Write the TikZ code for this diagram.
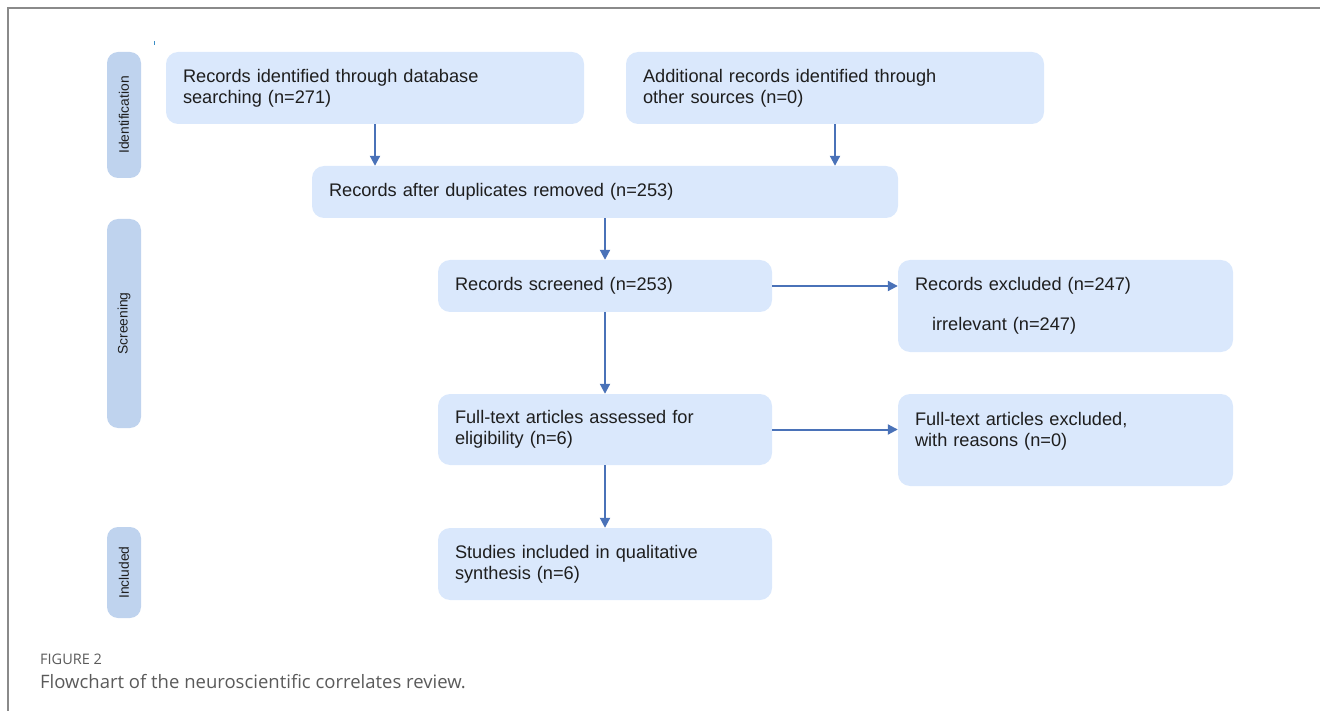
\documentclass[tikz,border=0pt]{standalone}
\usepackage{fontspec}
\setmainfont{Liberation Sans}
\newfontfamily\capfont{Open Sans}
\usetikzlibrary{arrows.meta}
\definecolor{boxfill}{HTML}{DAE8FC}
\definecolor{sidefill}{HTML}{BFD3EE}
\definecolor{arrowc}{HTML}{4A72B8}
\definecolor{txt}{HTML}{1E1E1E}
\definecolor{framec}{HTML}{8A8A8A}
\definecolor{capc}{HTML}{5A5A5A}
\tikzset{
  flowbox/.style={rectangle, rounded corners=12pt, fill=boxfill, draw=none,
    inner sep=0pt, align=left, text=txt,
    font=\fontsize{18.2}{21}\selectfont},
  sidebox/.style={rectangle, rounded corners=11pt, fill=sidefill, draw=none,
    inner sep=0pt, minimum width=34pt, text=txt,
    font=\fontsize{13.8}{15}\selectfont},
  flowarrow/.style={draw=arrowc, line width=2pt, -{Triangle[length=10pt,width=10pt]}},
}
\begin{document}
\begin{tikzpicture}[x=1pt,y=-1pt]
\useasboundingbox (0,0) rectangle (1320,711);
% frame (top and left lines)
\draw[framec, line width=1.5pt] (8,711) -- (8,8) -- (1320,8);
% tiny blue mark
\draw[arrowc!80!cyan, line width=1pt] (154,41.5) -- (154,45);
% side labels
\node[sidebox, minimum height=126pt] (sid) at (124,115) {\rotatebox{90}{Identification}};
\node[sidebox, minimum height=209pt] (sscr) at (124,323.5) {\rotatebox{90}{Screening}};
\node[sidebox, minimum height=91pt] (sinc) at (124,572.5) {\rotatebox{90}{Included}};
% boxes
\node[flowbox, minimum width=418pt, minimum height=72pt, text width=384pt] (A) at (375,88)
  {Records identified through database\\searching (n=271)};
\node[flowbox, minimum width=418pt, minimum height=72pt, text width=384pt] (B) at (835,88)
  {Additional records identified through\\other sources (n=0)};
\node[flowbox, minimum width=586pt, minimum height=52pt, text width=552pt] (C) at (605,192)
  {Records after duplicates removed (n=253)};
\node[flowbox, minimum width=334pt, minimum height=52pt, text width=300pt] (D) at (605,286)
  {Records screened (n=253)};
\node[flowbox, minimum width=335pt, minimum height=92pt, text width=301pt] (E) at (1065.5,306)
  {Records excluded (n=247)\\[19pt]\hspace*{17pt}irrelevant (n=247)};
\node[flowbox, minimum width=334pt, minimum height=71pt, text width=300pt] (F) at (605,429.5)
  {Full-text articles assessed for\\eligibility (n=6)};
\node[flowbox, minimum width=335pt, minimum height=92pt, text width=301pt] (G) at (1065.5,440)
  {Full-text articles excluded,\\with reasons (n=0)\\\mbox{}};
\node[flowbox, minimum width=334pt, minimum height=72pt, text width=300pt] (H) at (605,564)
  {Studies included in qualitative\\synthesis (n=6)};
% arrows
\draw[flowarrow] (A.south) -- (A.south |- C.north);
\draw[flowarrow] (B.south) -- (B.south |- C.north);
\draw[flowarrow] (C.south) -- (D.north);
\draw[flowarrow] (D.south) -- (F.north);
\draw[flowarrow] (F.south) -- (H.north);
\draw[flowarrow] (D.east) -- (D.east -| E.west);
\draw[flowarrow] (F.east) -- (F.east -| G.west);
% caption
\node[anchor=base west, inner sep=0pt, text=capc, font=\capfont\fontsize{14.5}{17}\selectfont] (cap1) at (40,664) {FIGURE 2};
\node[anchor=base west, inner sep=0pt, text=capc, font=\capfont\fontsize{18.5}{22}\selectfont] (cap2) at (40,688) {Flowchart of the neuroscientific correlates review.};
\end{tikzpicture}
\end{document}
